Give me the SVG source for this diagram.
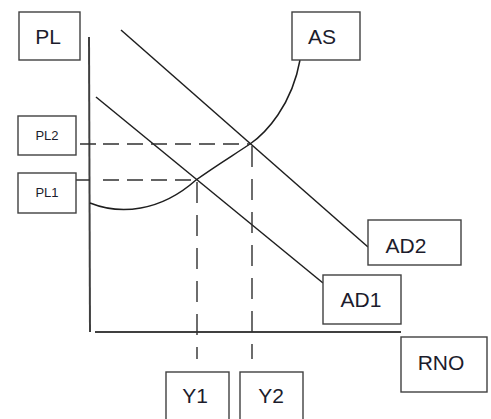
<svg xmlns="http://www.w3.org/2000/svg" width="491" height="419" viewBox="0 0 491 419">
<style>
.box{fill:#fff;stroke:#404040;stroke-width:1.4}
.lbl{font-family:"Liberation Sans",Arial,sans-serif;fill:#1c1c2c;text-anchor:middle}
.big{font-size:21px}
.small{font-size:13px}
.ln{fill:none;stroke:#1e1e1e;stroke-width:1.5}
.axis{fill:none;stroke:#404040;stroke-width:2}
.dh{fill:none;stroke:#303030;stroke-width:1.4;stroke-dasharray:16 8}
.dv{fill:none;stroke:#303030;stroke-width:1.4;stroke-dasharray:21 12}
</style>
<rect width="491" height="419" fill="#fff"/>
<g id="connectors">
<line class="axis" x1="89" y1="37" x2="90" y2="332"/>
<line class="axis" x1="95" y1="332" x2="401" y2="332"/>
<line class="ln" x1="121" y1="30" x2="368" y2="247"/>
<line class="ln" x1="96" y1="97" x2="323" y2="283"/>
<path class="ln" d="M90,203 C120,215 160,212 196,180 C214,167 232,156 250,144 C266,133 292,105 300,60"/>
<path class="dh" d="M80,144 H97 M103,144 H250"/>
<path class="dh" d="M76,180 H90 M103,180 H196"/>
<path class="dv" d="M197,182 V359"/>
<path class="dv" d="M252,146 V359"/>
</g>
<g id="PL"><rect class="box" x="19" y="12" width="61" height="48"/><text class="lbl big" x="48" y="44">PL</text></g>
<g id="PL2"><rect class="box" x="18" y="116" width="58" height="39"/><text class="lbl small" x="47" y="140">PL2</text></g>
<g id="PL1"><rect class="box" x="18" y="173" width="58" height="40"/><text class="lbl small" x="47" y="197">PL1</text></g>
<g id="AS"><rect class="box" x="292" y="12" width="68" height="48"/><text class="lbl big" x="322" y="44">AS</text></g>
<g id="AD2"><rect class="box" x="368" y="220" width="93" height="45"/><text class="lbl big" x="406" y="253">AD2</text></g>
<g id="AD1"><rect class="box" x="323" y="275" width="78" height="49"/><text class="lbl big" x="361" y="307">AD1</text></g>
<g id="RNO"><rect class="box" x="401" y="337" width="86" height="55"/><text class="lbl big" x="441" y="370">RNO</text></g>
<g id="Y1"><rect class="box" x="166" y="372" width="63" height="52"/><text class="lbl big" x="195" y="403">Y1</text></g>
<g id="Y2"><rect class="box" x="240" y="372" width="63" height="52"/><text class="lbl big" x="271" y="403">Y2</text></g>
</svg>
